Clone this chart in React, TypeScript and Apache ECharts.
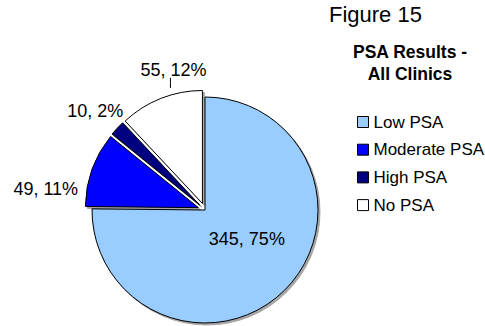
import React, { useEffect, useRef } from "react";
import * as echarts from "echarts";

const categories = ["Low PSA", "Moderate PSA", "High PSA", "No PSA"];
const values = [345, 49, 10, 55];
const colors = ["#99CCFF", "#0000FF", "#000080", "#FFFFFF"];
const exploded = [false, true, true, true];
const figureLabel = "Figure 15";
const chartTitle = "PSA Results -\nAll Clinics";

const PIE_CX = 205;
const PIE_CY = 210;
const PIE_R = 113;
const EXPLODE = 7;

// label placement tweaks: [dx, dy, align]
const labelNudge: [number, number, string | null][] = [
  [0, -13, "center"],
  [0, 20, null],
  [5, 3, "center"],
  [29, 0, "center"],
];
const labelLines = [
  { show: false, length: 0, length2: 0 },
  { show: false, length: 0, length2: 9 },
  { show: false, length: 30, length2: 0 },
  { show: true, length: 31, length2: 0 },
];

const FONT = "'Liberation Sans', Arial, Helvetica, sans-serif";

export default function App() {
  const ref = useRef<HTMLDivElement>(null);
  useEffect(() => {
    if (!ref.current) return;
    const chart = echarts.init(ref.current, undefined, { renderer: "svg" });
    const total = values.reduce((a, b) => a + b, 0);
    // mid-angle direction of each slice (clockwise from 12 o'clock)
    let acc = 0;
    const midDir = values.map((v) => {
      const mid = (acc + v / 2) / total;
      acc += v;
      const a = mid * Math.PI * 2;
      return [Math.sin(a), -Math.cos(a)];
    });
    chart.setOption({
      animation: false,
      backgroundColor: "#FFFFFF",
      title: [
        {
          text: figureLabel,
          left: 329,
          top: 3,
          padding: 0,
          textStyle: { fontFamily: FONT, fontSize: 22, fontWeight: "normal", color: "#000" },
        },
        {
          text: chartTitle,
          left: 410,
          top: 41,
          padding: 0,
          textAlign: "center",
          textStyle: {
            fontFamily: FONT,
            fontSize: 17.5,
            fontWeight: "bold",
            color: "#000",
            lineHeight: 22,
          },
        },
      ],
      legend: {
        orient: "vertical",
        left: 357,
        top: 113.5,
        padding: 0,
        itemWidth: 11,
        itemHeight: 11,
        itemGap: 10.7,
        icon: "rect",
        selectedMode: false,
        itemStyle: { borderColor: "#000", borderWidth: 1 },
        textStyle: { fontFamily: FONT, fontSize: 17, color: "#000", lineHeight: 17 },
        data: categories,
      },
      series: [
        {
          type: "pie",
          center: [PIE_CX, PIE_CY],
          radius: PIE_R,
          startAngle: 90,
          clockwise: true,
          selectedMode: "multiple",
          selectedOffset: EXPLODE,
          avoidLabelOverlap: false,
          percentPrecision: 0,
          emphasis: { disabled: true },
          itemStyle: {
            borderColor: "#000",
            borderWidth: 1,
            shadowColor: "rgba(0,0,0,0.35)",
            shadowBlur: 1,
            shadowOffsetX: 2,
            shadowOffsetY: 2,
          },
          select: { itemStyle: { borderColor: "#000", borderWidth: 1 } },
          label: {
            show: true,
            formatter: "{c}, {d}%",
            fontFamily: FONT,
            fontSize: 18,
            color: "#000",
          },
          labelLine: { lineStyle: { color: "#000", width: 1 }, smooth: false },
          labelLayout: (p: any) => {
            const i = p.dataIndex;
            const n = labelNudge[i];
            const o: any = { dx: n[0], dy: n[1] };
            if (n[2]) o.align = n[2];
            if (labelLines[i].show) {
              // vertical leader from below the label down to the exploded arc
              const x = 173;
              const cx = PIE_CX + midDir[i][0] * EXPLODE;
              const cy = PIE_CY + midDir[i][1] * EXPLODE;
              const arcY = cy - Math.sqrt(PIE_R * PIE_R - (x - cx) * (x - cx));
              o.labelLinePoints = [
                [x, arcY],
                [x, arcY - 5],
                [x, arcY - 10],
              ];
            }
            return o;
          },
          data: categories.map((name, i) => ({
            name,
            value: values[i],
            selected: exploded[i],
            itemStyle: { color: colors[i] },
            label: { position: i === 0 ? "inside" : "outside" },
            labelLine: labelLines[i],
          })),
        },
      ],
    });
    return () => chart.dispose();
  }, []);
  return <div ref={ref} style={{ width: 485, height: 326, position: "absolute", left: 0, top: 0 }} />;
}
